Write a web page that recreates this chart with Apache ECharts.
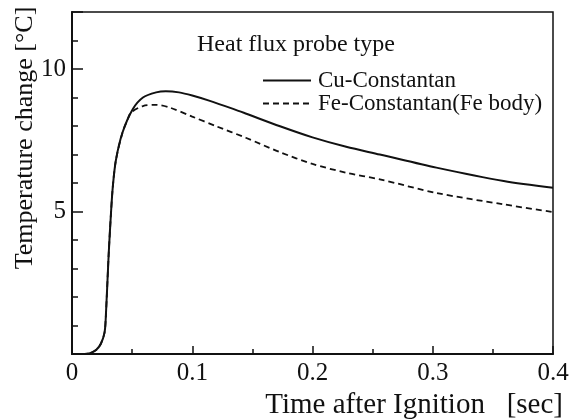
<!DOCTYPE html>
<html>
<head>
<meta charset="utf-8">
<script src="https://cdn.jsdelivr.net/npm/echarts@6/dist/echarts.min.js"></script>
<style>html,body{margin:0;padding:0;background:#fff;}#c{width:572px;height:420px;}</style>
</head>
<body>
<div id="c"></div>
<script>
// Time after ignition [sec] and temperature change [°C]
const cuTime = [0, 0.01, 0.015, 0.02, 0.024, 0.027, 0.028, 0.0305, 0.0325, 0.034, 0.0365, 0.042, 0.0505, 0.059, 0.07, 0.078, 0.089, 0.1, 0.114, 0.134, 0.145, 0.173, 0.2, 0.228, 0.256, 0.303, 0.359, 0.4];
const cuTemp = [0, 0.0, 0.03, 0.14, 0.36, 0.74, 1.2, 3.5, 5.0, 5.9, 6.8, 7.77, 8.59, 9.0, 9.18, 9.22, 9.18, 9.07, 8.89, 8.6, 8.43, 7.99, 7.6, 7.27, 7.0, 6.54, 6.07, 5.83];
const feTime = [0, 0.01, 0.015, 0.02, 0.024, 0.027, 0.028, 0.0305, 0.0325, 0.034, 0.0365, 0.042, 0.046, 0.049, 0.059, 0.07, 0.081, 0.1, 0.12, 0.145, 0.173, 0.2, 0.228, 0.256, 0.303, 0.359, 0.4];
const feTemp = [0, 0.0, 0.03, 0.14, 0.36, 0.74, 1.2, 3.5, 5.0, 5.9, 6.8, 7.77, 8.2, 8.47, 8.7, 8.74, 8.65, 8.33, 7.99, 7.58, 7.08, 6.67, 6.36, 6.13, 5.65, 5.25, 4.98];
const seriesNames = ['Cu-Constantan', 'Fe-Constantan(Fe body)'];
const legendTitle = 'Heat flux probe type';
const xTitle = 'Time after Ignition   [sec]';
const yTitle = 'Temperature change [°C]';
const yLabelValues = [5, 10];

const FONT = "'Liberation Serif', 'Times New Roman', serif";
const pair = (xs, ys) => xs.map((x, i) => [x, ys[i]]);

const chart = echarts.init(document.getElementById('c'), null, {renderer: 'canvas'});
chart.setOption({
  animation: false,
  backgroundColor: '#fff',
  title: {
    text: legendTitle, left: 197, top: 33, padding: 0,
    textStyle: {fontFamily: FONT, fontWeight: 'normal', fontSize: 24, color: '#111'}
  },
  legend: {
    orient: 'vertical', left: 262, top: 69, itemGap: 0, padding: 0,
    itemWidth: 48, itemHeight: 14,
    itemStyle: {color: 'transparent', borderWidth: 0, opacity: 0},
    textStyle: {fontFamily: FONT, fontSize: 23, color: '#111', lineHeight: 21, padding: [0, 0, 0, 2]},
    data: seriesNames
  },
  graphic: [{
    type: 'text', x: 25, y: 138, rotation: Math.PI / 2,
    style: {text: yTitle, font: "26px 'Liberation Serif', 'Times New Roman', serif", fill: '#111', align: 'center', verticalAlign: 'middle'}
  }],
  grid: {left: 72, right: 19, top: 12, bottom: 66, outerBoundsMode: 'none', containLabel: false, show: true, borderColor: '#111', borderWidth: 1.5, backgroundColor: 'transparent'},
  xAxis: {
    type: 'value', min: 0, max: 0.4, interval: 0.1,
    name: xTitle, nameLocation: 'end', nameGap: 10,
    nameTextStyle: {fontFamily: FONT, fontSize: 29, color: '#111', align: 'right', verticalAlign: 'top', padding: [37, 0, 0, 0]},
    axisLine: {lineStyle: {color: '#111', width: 2}},
    axisTick: {inside: true, length: 8, lineStyle: {color: '#111', width: 1.5}},
    minorTick: {show: true, splitNumber: 2, length: 5, lineStyle: {color: '#111', width: 1.5}},
    splitLine: {show: false},
    axisLabel: {fontFamily: FONT, fontSize: 25, color: '#111', margin: 7}
  },
  yAxis: [{
    type: 'value', min: 0, max: 12, interval: 1,
    axisLine: {lineStyle: {color: '#111', width: 2}},
    axisTick: {inside: true, length: 6, lineStyle: {color: '#111', width: 1.5}},
    splitLine: {show: false},
    axisLabel: {fontFamily: FONT, fontSize: 25, color: '#111', margin: 6,
      formatter: v => yLabelValues.indexOf(v) >= 0 ? String(v) : ''}
  }, {
    type: 'value', min: 0, max: 12, interval: 5, position: 'left',
    axisLine: {show: false},
    axisTick: {inside: true, length: 11, lineStyle: {color: '#111', width: 1.5}},
    axisLabel: {show: false}, splitLine: {show: false}
  }],
  series: [{
    name: seriesNames[0], type: 'line', symbol: 'none', smooth: 0.3, yAxisIndex: 0,
    lineStyle: {color: '#111', width: 2},
    itemStyle: {color: '#111'},
    data: pair(cuTime, cuTemp), z: 3
  }, {
    name: seriesNames[1], type: 'line', symbol: 'none', smooth: 0.3, yAxisIndex: 0,
    lineStyle: {color: '#111', width: 1.8, type: [6, 4]},
    itemStyle: {color: '#111'},
    data: pair(feTime, feTemp), z: 2
  }]
});
</script>
</body>
</html>
